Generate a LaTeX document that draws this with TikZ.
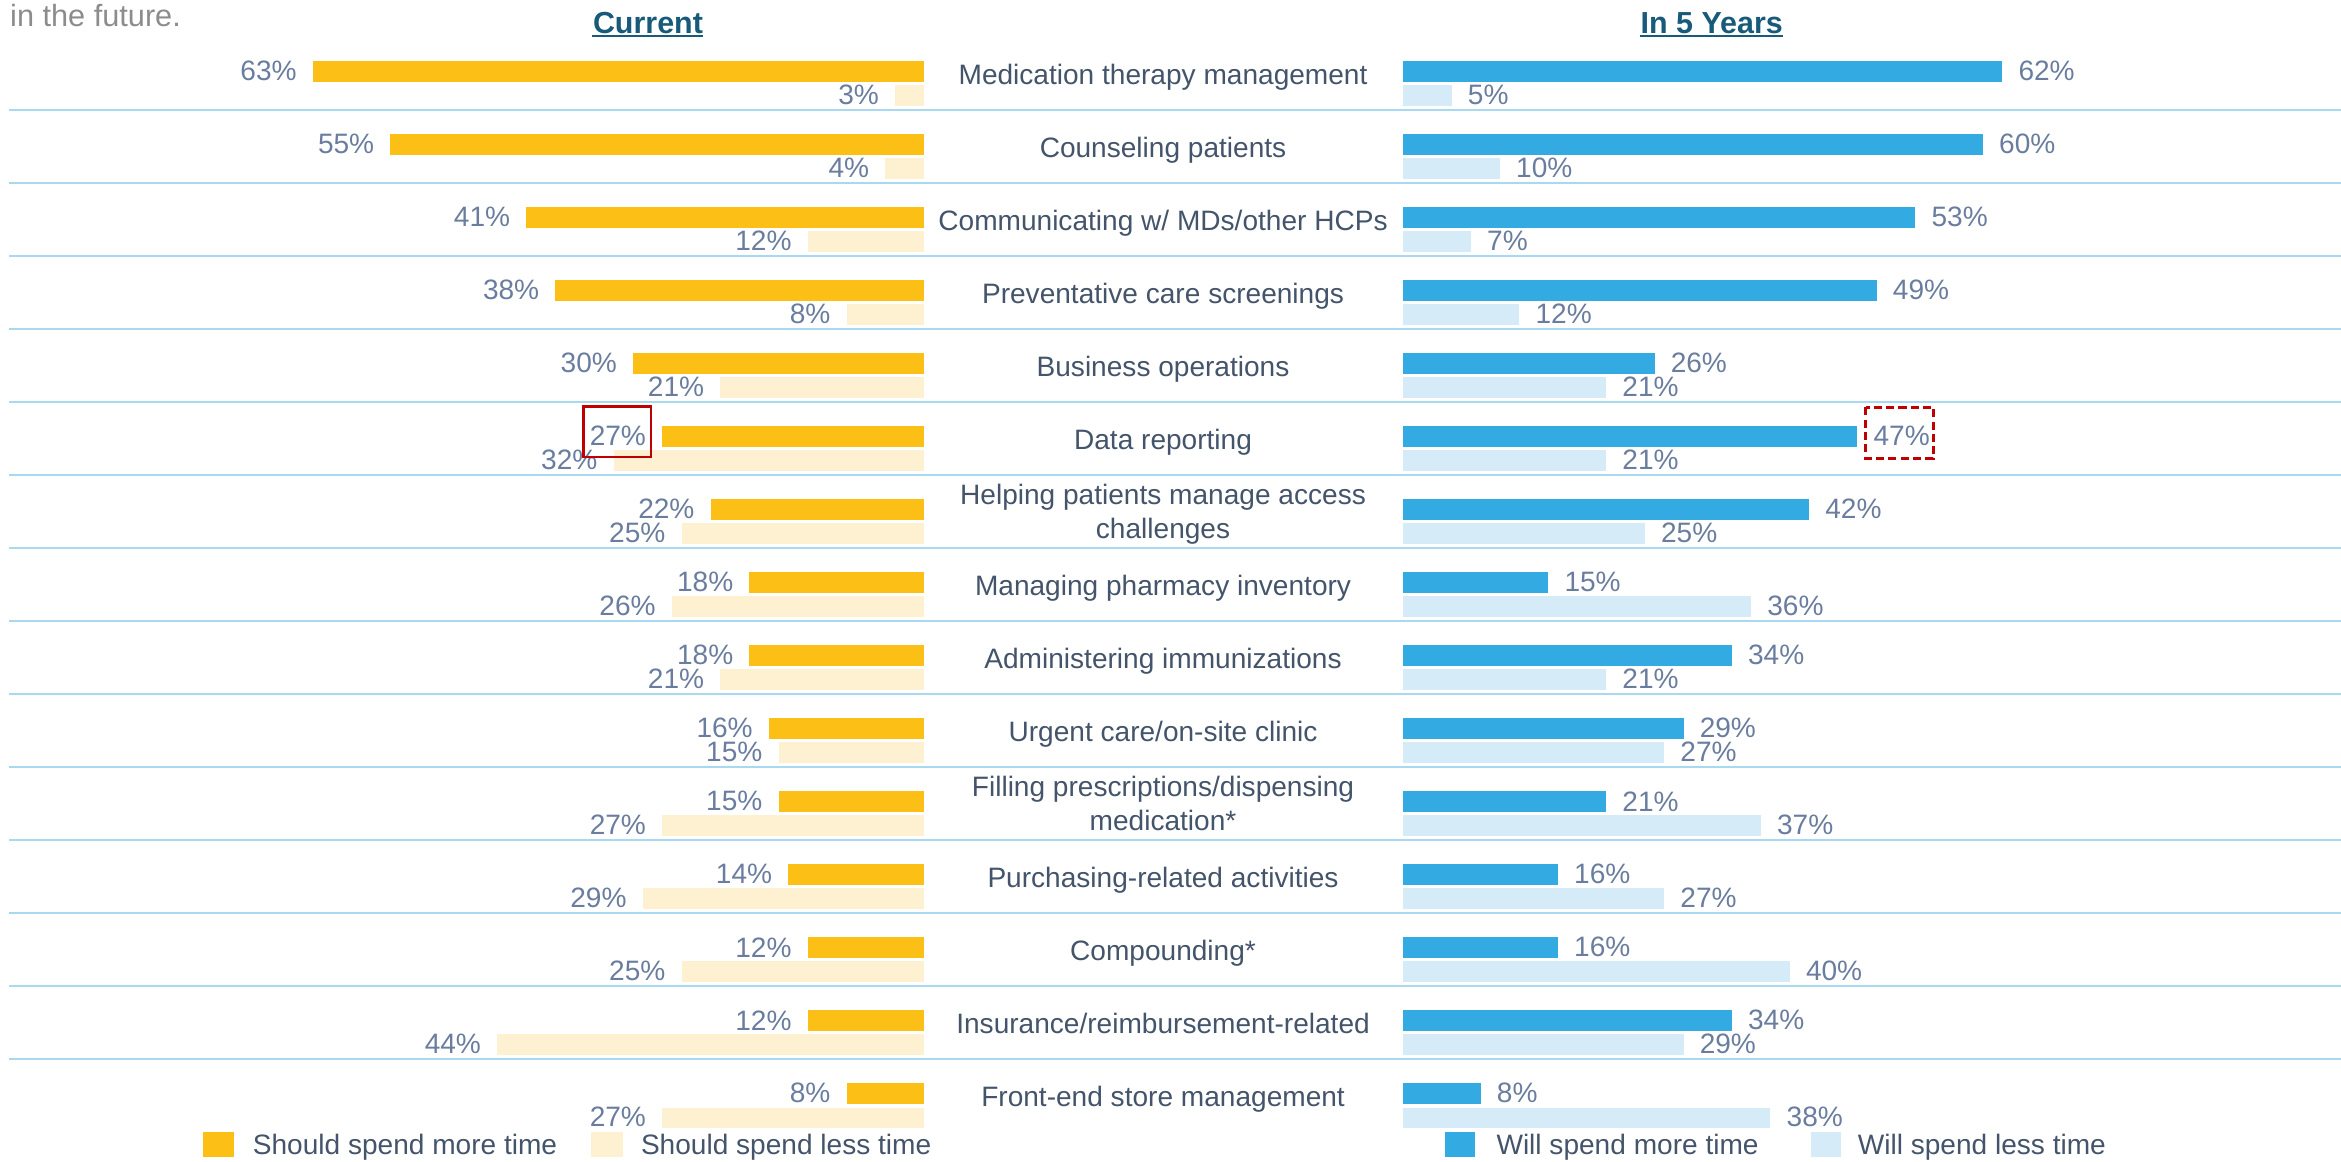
\documentclass[tikz,border=0pt]{standalone}
\usepackage{fontspec}
\setmainfont{Liberation Sans}
\usetikzlibrary{calc}
\definecolor{moreC}{RGB}{251,191,22}
\definecolor{lessC}{RGB}{254,241,210}
\definecolor{moreF}{RGB}{51,170,225}
\definecolor{lessF}{RGB}{213,236,248}
\definecolor{rowline}{RGB}{168,217,240}
\definecolor{cattxt}{RGB}{68,84,106}
\definecolor{valtxt}{RGB}{106,125,158}
\definecolor{hdrtxt}{RGB}{24,90,122}
\definecolor{notetxt}{RGB}{140,140,140}
\definecolor{hilite}{RGB}{192,0,0}
\newcommand{\lblfont}{\fontsize{10.7}{12.8}\selectfont}
\newcommand{\hdrfont}{\fontsize{11.6}{14}\selectfont\bfseries}

\begin{document}
\begin{tikzpicture}[x=0.2mm, y=-0.2mm,
  every node/.style={inner sep=0pt, font=\lblfont},
  val/.style={text=valtxt},
  cat/.style={text=cattxt, align=center, anchor=base},
  leg/.style={text=cattxt, anchor=base west},
  hdr/.style={text=hdrtxt, font=\hdrfont, anchor=base},
  rowsep/.style={draw=rowline, line width=0.28mm},
  markbox/.style={draw=hilite, line width=0.34mm}]
\useasboundingbox (0,0) rectangle (1568,778);

\node [anchor=base west, text=notetxt, font=\fontsize{11.7}{14}\selectfont] (note) at (6.5,17.9) {in the future.};
\node [hdr] (hdrCur) at (434,22.3) {Current};
\node [hdr] (hdrFut) at (1146.5,22.3) {In 5 Years};
\draw [hdrtxt, line width=0.3mm] ($(hdrCur.base west)+(0,2)$) -- ($(hdrCur.base east)+(0,2)$);
\draw [hdrtxt, line width=0.3mm] ($(hdrFut.base west)+(0,2)$) -- ($(hdrFut.base east)+(0,2)$);

\foreach \i in {1,...,14}
  \draw [rowsep] (6,24.8+48.9*\i) -- (1568,24.8+48.9*\i);

\foreach \i/\lab/\bl/\cm/\cl/\fm/\fl in {
  1/Medication therapy management/17/63/3/62/5,
  2/Counseling patients/17/55/4/60/10,
  3/{Communicating w/ MDs/other HCPs}/17/41/12/53/7,
  4/Preventative care screenings/17/38/8/49/12,
  5/Business operations/17/30/21/26/21,
  6/Data reporting/17/27/32/47/21,
  7/{Helping patients manage access\\challenges}/6.5/22/25/42/25,
  8/Managing pharmacy inventory/17/18/26/15/36,
  9/Administering immunizations/17/18/21/34/21,
  10/{Urgent care/on-site clinic}/17/16/15/29/27,
  11/{Filling prescriptions/dispensing\\medication*}/6.5/15/27/21/37,
  12/Purchasing-related activities/17/14/29/16/27,
  13/Compounding*/17/12/25/16/40,
  14/{Insurance/reimbursement-related}/17/12/44/34/29,
  15/Front-end store management/17/8/27/8/38}{
  \pgfmathsetmacro{\ry}{73.7+48.9*(\i-1)}
  \fill [moreC] (619,\ry-33) rectangle (619-6.5*\cm,\ry-19);
  \fill [lessC] (619,\ry-16.5) rectangle (619-6.5*\cl,\ry-3);
  \fill [moreF] (940,\ry-33) rectangle (940+6.47*\fm,\ry-19);
  \fill [lessF] (940,\ry-16.5) rectangle (940+6.47*\fl,\ry-3);
  \node [val, anchor=east] (curM\i) at (608.5-6.5*\cm,\ry-26) {\cm\%};
  \node [val, anchor=east] (curL\i) at (608.5-6.5*\cl,\ry-10) {\cl\%};
  \node [val, anchor=west] (futM\i) at (950.5+6.47*\fm,\ry-26) {\fm\%};
  \node [val, anchor=west] (futL\i) at (950.5+6.47*\fl,\ry-10) {\fl\%};
  \node [cat] (cat\i) at (779,\ry-\bl) {\lab};
}

\draw [markbox] ($(curM6.north west)+(-4,-13)$) rectangle ($(curM6.south east)+(3,7)$);
\draw [markbox, dash pattern=on 1.1mm off 0.55mm] ($(futM6.north west)+(-5,-12.5)$) rectangle ($(futM6.south east)+(2,8)$);

\fill [moreC] (136,758) rectangle (157,775);
\node [leg] (legCM) at (169,773) {Should spend more time};
\fill [lessC] (396,758) rectangle (417,775);
\node [leg] (legCL) at (429,773) {Should spend less time};
\fill [moreF] (968,758) rectangle (988,775);
\node [leg] (legFM) at (1002,773) {Will spend more time};
\fill [lessF] (1213,758) rectangle (1233,775);
\node [leg] (legFL) at (1244,773) {Will spend less time};
\end{tikzpicture}
\end{document}
